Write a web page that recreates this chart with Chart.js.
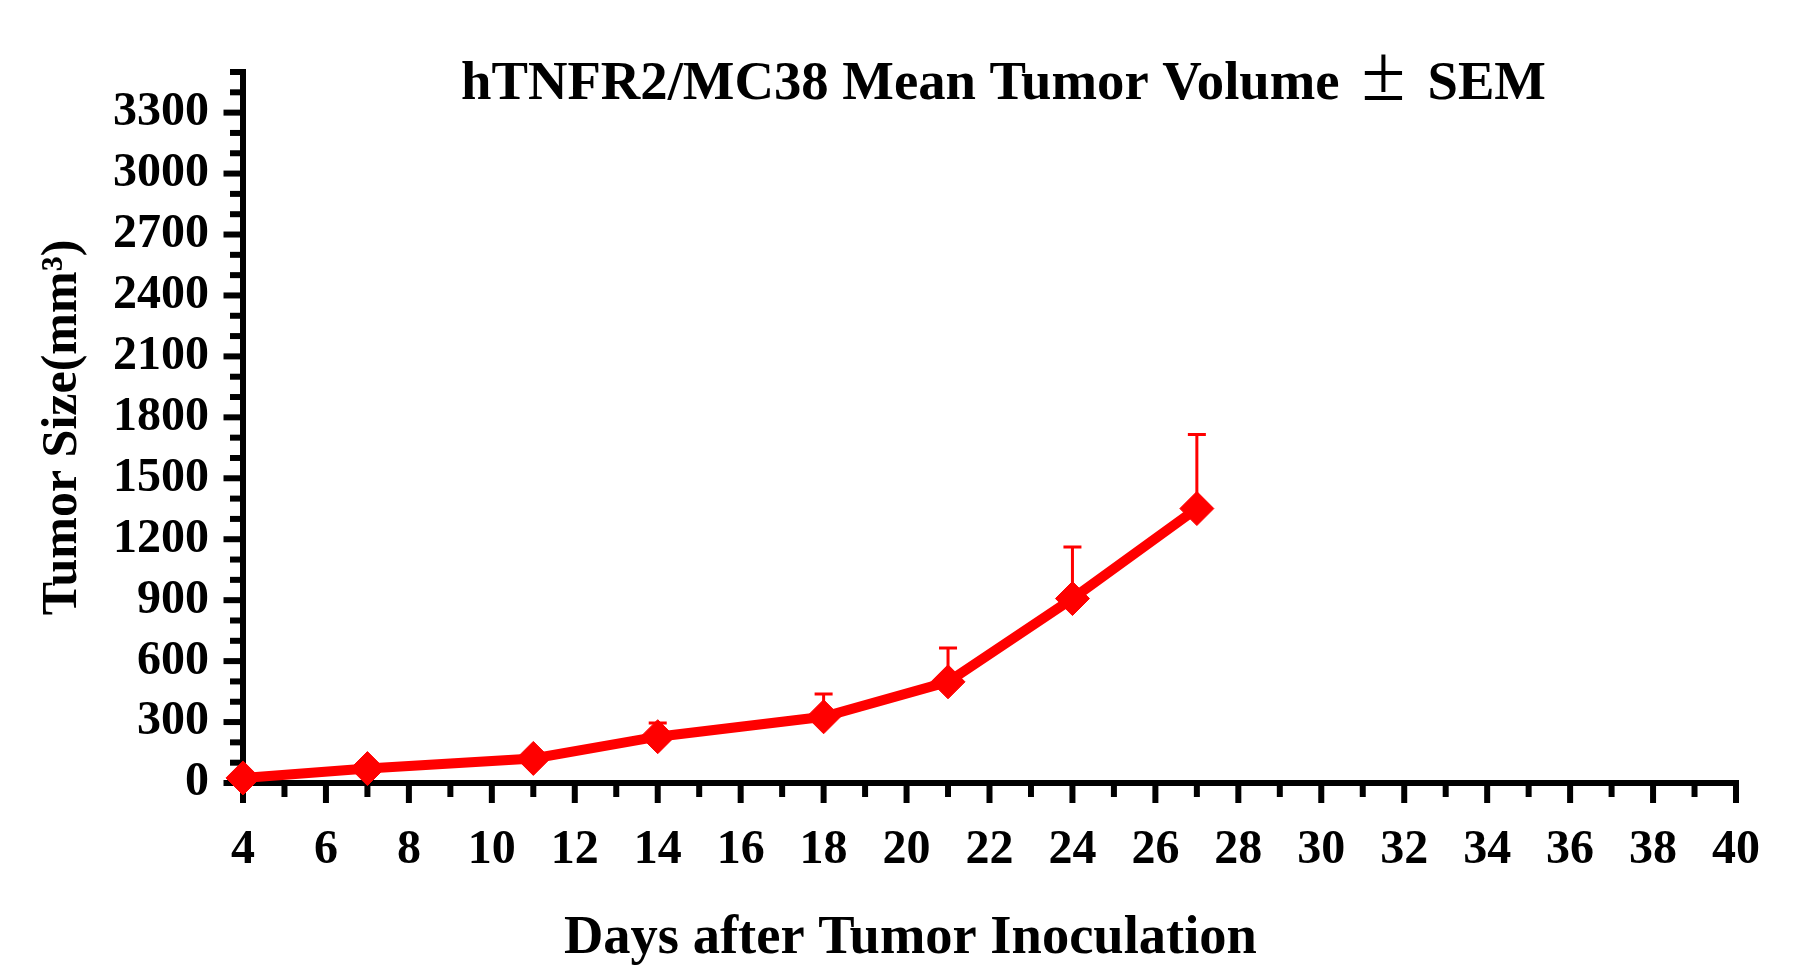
<!DOCTYPE html>
<html><head><meta charset="utf-8">
<script src="https://cdn.jsdelivr.net/npm/chart.js@4.4.1/dist/chart.umd.min.js"></script>
<style>html,body{margin:0;padding:0;background:#fff;overflow:hidden}#wrap{width:1802px;height:978px;position:relative;background:#fff}</style>
</head><body><div id="wrap"><canvas id="c" width="1802" height="978"></canvas></div>
<script>
// ---- data ----
const days = [4, 7, 11, 14, 18, 21, 24, 27];
const meanVolume = [25, 71, 121, 228, 326, 498, 908, 1351];
const semVolume = [8, 12, 15, 67, 112, 167, 254, 364];
const xTickLabels = [4, 6, 8, 10, 12, 14, 16, 18, 20, 22, 24, 26, 28, 30, 32, 34, 36, 38, 40];
const yTickLabels = [0, 300, 600, 900, 1200, 1500, 1800, 2100, 2400, 2700, 3000, 3300];
const chartTitleParts = ['hTNFR2/MC38 Mean Tumor Volume', '\u00B1', 'SEM'];
const xAxisTitle = 'Days after Tumor Inoculation';
const yAxisTitle = 'Tumor Size(mm\u00B3)';

const FONT = '"Liberation Serif","Times New Roman",Times,serif';
const RED = '#ff0000';

const axesPlugin = {
  id: 'axesAndErrors',
  beforeDatasetsDraw(chart) {
    const {ctx, scales: {x, y}} = chart;
    const x0 = x.getPixelForValue(x.min), x1 = x.getPixelForValue(x.max);
    const y0 = y.getPixelForValue(y.min), y1 = y.getPixelForValue(y.max);
    ctx.save();
    ctx.strokeStyle = '#000';
    ctx.lineCap = 'butt';
    ctx.lineWidth = 6;
    ctx.beginPath();
    ctx.moveTo(x0, y1 - 3); ctx.lineTo(x0, y0 + 3);
    ctx.moveTo(x0 - 3, y0); ctx.lineTo(x1 + 3, y0);
    ctx.stroke();
    y.ticks.forEach(t => {
      const py = y.getPixelForValue(t.value);
      const len = yTickLabels.includes(t.value) ? 19.5 : 13;
      ctx.beginPath(); ctx.moveTo(x0 - len, py); ctx.lineTo(x0, py); ctx.stroke();
    });
    x.ticks.forEach(t => {
      const px = x.getPixelForValue(t.value);
      const len = xTickLabels.includes(t.value) ? 20 : 14;
      ctx.beginPath(); ctx.moveTo(px, y0); ctx.lineTo(px, y0 + len); ctx.stroke();
    });
    // error bars (upper SEM)
    ctx.strokeStyle = RED;
    ctx.lineWidth = 3;
    days.forEach((d, i) => {
      const px = x.getPixelForValue(d);
      const pm = y.getPixelForValue(meanVolume[i]);
      const pt = y.getPixelForValue(meanVolume[i] + semVolume[i]);
      ctx.beginPath();
      ctx.moveTo(px, pm); ctx.lineTo(px, pt);
      ctx.moveTo(px - 9, pt); ctx.lineTo(px + 9, pt);
      ctx.stroke();
    });
    ctx.restore();
  },
  afterDraw(chart) {
    const {ctx} = chart;
    ctx.save();
    ctx.fillStyle = '#000';
    ctx.textAlign = 'left';
    ctx.textBaseline = 'alphabetic';
    // chart title
    const boldTitle = 'bold 54.7px ' + FONT;
    ctx.font = boldTitle;
    let tx = 461;
    ctx.fillText(chartTitleParts[0], tx, 99);
    tx += ctx.measureText(chartTitleParts[0]).width + 22;
    ctx.font = '80px ' + FONT;
    ctx.fillText(chartTitleParts[1], tx, 100);
    tx += ctx.measureText(chartTitleParts[1]).width + 22;
    ctx.font = boldTitle;
    ctx.fillText(chartTitleParts[2], tx, 99);
    // x axis title
    ctx.font = 'bold 54.5px ' + FONT;
    ctx.fillText(xAxisTitle, 564, 953);
    ctx.restore();
  }
};

new Chart(document.getElementById('c').getContext('2d'), {
  type: 'line',
  data: {
    datasets: [{
      label: 'hTNFR2/MC38',
      data: days.map((d, i) => ({x: d, y: meanVolume[i]})),
      borderColor: RED,
      backgroundColor: RED,
      borderWidth: 10,
      pointStyle: 'rectRot',
      pointRadius: 17,
      pointHoverRadius: 17,
      pointBorderWidth: 1,
      pointBackgroundColor: RED,
      pointBorderColor: RED,
      tension: 0,
      clip: false
    }]
  },
  options: {
    responsive: false,
    animation: false,
    devicePixelRatio: 1,
    layout: {padding: {left: 0, top: 72, right: 66, bottom: 0}},
    plugins: {legend: {display: false}, tooltip: {enabled: false}, title: {display: false}},
    scales: {
      x: {
        type: 'linear', min: 4, max: 40,
        grid: {display: false, drawTicks: false}, border: {display: false},
        ticks: {
          stepSize: 1, autoSkip: false, maxRotation: 0, minRotation: 0, padding: 39,
          color: '#000', font: {family: FONT, weight: 'bold', size: 48},
          callback: v => xTickLabels.includes(v) ? String(v) : ''
        },
        afterFit(s) { s.height = 195; }
      },
      y: {
        type: 'linear', min: 0, max: 3500,
        grid: {display: false, drawTicks: false}, border: {display: false},
        ticks: {
          stepSize: 100, autoSkip: false, padding: 34,
          color: '#000', font: {family: FONT, weight: 'bold', size: 48},
          callback: v => yTickLabels.includes(v) ? String(v) : ''
        },
        title: {
          display: true, text: yAxisTitle, color: '#000',
          font: {family: FONT, weight: 'bold', size: 50},
          padding: {top: 33, bottom: 0}
        },
        afterFit(s) { s.width = 243; }
      }
    }
  },
  plugins: [axesPlugin]
});
</script>
</body></html>
